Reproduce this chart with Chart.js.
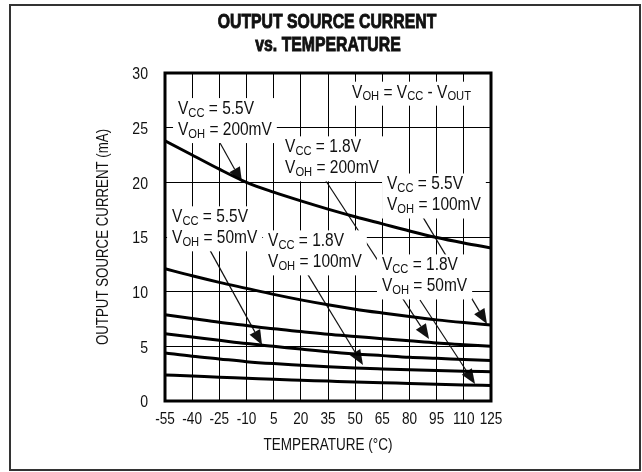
<!DOCTYPE html>
<html>
<head>
<meta charset="utf-8">
<script src="https://cdn.jsdelivr.net/npm/chart.js@4/dist/chart.umd.min.js"></script>
<style>
  html, body { margin: 0; padding: 0; background: #fff; }
  #wrap { width: 642px; height: 472px; }
</style>
</head>
<body>
<div id="wrap"><canvas id="c" width="642" height="472"></canvas></div>
<script>
// ---- data ----
const temps = [-55, -40, -25, -10, 5, 20, 35, 50, 65, 80, 95, 110, 125];
const xTickLabels = ['-55', '-40', '-25', '-10', '5', '20', '35', '50', '65', '80', '95', '110', '125'];
const yTicks = [0, 5, 10, 15, 20, 25, 30];
const yTickLabels = ['0', '5', '10', '15', '20', '25', '30'];

const vcc55_voh200 = [23.8, 22.5, 21.2, 20.0, 19.1, 18.3, 17.55, 16.85, 16.2, 15.55, 14.95, 14.45, 14.0];
const vcc55_voh100 = [12.1, 11.45, 10.85, 10.3, 9.75, 9.25, 8.8, 8.4, 8.05, 7.72, 7.42, 7.17, 6.95];
const vcc18_voh200 = [7.9, 7.55, 7.2, 6.9, 6.6, 6.35, 6.1, 5.9, 5.7, 5.5, 5.3, 5.15, 5.0];
const vcc55_voh50  = [6.15, 5.85, 5.55, 5.25, 5.0, 4.75, 4.5, 4.3, 4.15, 4.0, 3.9, 3.8, 3.7];
const vcc18_voh100 = [4.4, 4.1, 3.85, 3.6, 3.42, 3.28, 3.14, 3.02, 2.93, 2.85, 2.78, 2.72, 2.68];
const vcc18_voh50  = [2.38, 2.28, 2.17, 2.08, 1.98, 1.9, 1.82, 1.74, 1.67, 1.6, 1.53, 1.47, 1.42];

const titleLines = ['OUTPUT SOURCE CURRENT', 'vs. TEMPERATURE'];
const xTitle = 'TEMPERATURE (°C)';
const yTitle = 'OUTPUT SOURCE CURRENT (mA)';

// label texts: each line is a list of [text, isSubscript]
const labelTexts = {
  def: [[['V', 0], ['OH', 1], [' = V', 0], ['CC', 1], [' - V', 0], ['OUT', 1]]],
  a: [[['V', 0], ['CC', 1], [' = 5.5V', 0]], [['V', 0], ['OH', 1], [' = 200mV', 0]]],
  b: [[['V', 0], ['CC', 1], [' = 1.8V', 0]], [['V', 0], ['OH', 1], [' = 200mV', 0]]],
  c: [[['V', 0], ['CC', 1], [' = 5.5V', 0]], [['V', 0], ['OH', 1], [' = 100mV', 0]]],
  d: [[['V', 0], ['CC', 1], [' = 1.8V', 0]], [['V', 0], ['OH', 1], [' = 50mV', 0]]],
  e: [[['V', 0], ['CC', 1], [' = 5.5V', 0]], [['V', 0], ['OH', 1], [' = 50mV', 0]]],
  f: [[['V', 0], ['CC', 1], [' = 1.8V', 0]], [['V', 0], ['OH', 1], [' = 100mV', 0]]]
};

// annotation anchors in data units (temperature, mA)
const labelAnchors = [
  { key: 'def', t: 48.3, v: 28.2 },
  { key: 'a', t: -47.8, v: 26.7 },
  { key: 'b', t: 11.3, v: 23.2 },
  { key: 'c', t: 67.6, v: 19.8 },
  { key: 'd', t: 64.8, v: 12.4 },
  { key: 'e', t: -51.1, v: 16.8 },
  { key: 'f', t: 1.9, v: 14.6 }
];
const arrows = [
  { t0: -24.6, v0: 23.6, t1: -12.5, v1: 20.0 },   // a
  { t0: 32.8, v0: 20.4, t1: 90.8, v1: 5.67 },     // b
  { t0: 87.5, v0: 16.8, t1: 122.8, v1: 7.04 },    // c
  { t0: 85.8, v0: 9.24, t1: 116.2, v1: 1.55 },    // d
  { t0: -30.2, v0: 13.8, t1: -1.4, v1: 5.12 },    // e
  { t0: 23.4, v0: 11.7, t1: 54.3, v1: 3.29 }      // f
];

const FAM = "'Liberation Sans', Arial, sans-serif";
const INK = '#111';
const SX = 0.86; // horizontal condensing to mimic a narrow face

function text(ctx, txt, x, y, font, align, sx, stroke) {
  ctx.save();
  ctx.font = font;
  ctx.textAlign = align;
  ctx.textBaseline = 'middle';
  ctx.translate(x, y);
  ctx.scale(sx, 1);
  ctx.fillText(txt, 0, 0);
  if (stroke) { ctx.lineWidth = stroke; ctx.strokeText(txt, 0, 0); }
  ctx.restore();
}

function drawRich(ctx, line, x, y, draw) {
  let cx = x;
  for (const [txt, sub] of line) {
    const font = sub ? `13px ${FAM}` : `18px ${FAM}`;
    ctx.font = font;
    const w = ctx.measureText(txt).width * SX;
    if (draw) text(ctx, txt, cx, sub ? y + 4 : y, font, 'left', SX);
    cx += w;
  }
  return cx - x;
}

const annotPlugin = {
  id: 'annot',
  beforeDraw(chart) {
    const ctx = chart.ctx;
    ctx.save();
    ctx.fillStyle = '#fff';
    ctx.fillRect(0, 0, chart.width, chart.height);
    ctx.strokeStyle = '#333';
    ctx.lineWidth = 2;
    ctx.strokeRect(10, 5, 630, 465);
    ctx.restore();
  },
  beforeDatasetsDraw(chart) {
    const ctx = chart.ctx;
    const xs = chart.scales.x, ys = chart.scales.y;
    ctx.save();
    // arrows
    ctx.strokeStyle = INK; ctx.fillStyle = INK; ctx.lineWidth = 1.2;
    for (const a of arrows) {
      const x0 = xs.getPixelForValue(a.t0), y0 = ys.getPixelForValue(a.v0);
      const x1 = xs.getPixelForValue(a.t1), y1 = ys.getPixelForValue(a.v1);
      const ang = Math.atan2(y1 - y0, x1 - x0);
      const L = 15, W = 6;
      const bx = x1 - L * Math.cos(ang), by = y1 - L * Math.sin(ang);
      ctx.beginPath(); ctx.moveTo(x0, y0); ctx.lineTo(bx, by); ctx.stroke();
      ctx.beginPath();
      ctx.moveTo(x1, y1);
      ctx.lineTo(bx + W * Math.sin(ang), by - W * Math.cos(ang));
      ctx.lineTo(bx - W * Math.sin(ang), by + W * Math.cos(ang));
      ctx.closePath(); ctx.fill();
    }
    // labels with white boxes
    for (const l of labelAnchors) {
      const lines = labelTexts[l.key];
      const x = xs.getPixelForValue(l.t), y = ys.getPixelForValue(l.v);
      let wmax = 0;
      for (const ln of lines) wmax = Math.max(wmax, drawRich(ctx, ln, x, y, false));
      ctx.fillStyle = '#fff';
      ctx.fillRect(x - 5, y - 11, wmax + 10, 21 * (lines.length - 1) + 24);
      ctx.fillStyle = INK;
      lines.forEach((ln, i) => drawRich(ctx, ln, x, y + 21 * i, true));
    }
    ctx.restore();
  },
  afterDatasetsDraw(chart) {
    const ctx = chart.ctx, ca = chart.chartArea;
    const xs = chart.scales.x, ys = chart.scales.y;
    ctx.save();
    ctx.strokeStyle = '#000'; ctx.lineWidth = 3;
    ctx.strokeRect(ca.left, ca.top, ca.right - ca.left, ca.bottom - ca.top);
    ctx.fillStyle = INK; ctx.strokeStyle = INK;
    // tick labels, placed by the chart's own scales
    temps.forEach((t, i) => text(ctx, xTickLabels[i], xs.getPixelForValue(t), ca.bottom + 19, `16px ${FAM}`, 'center', 0.85));
    yTicks.forEach((v, i) => text(ctx, yTickLabels[i], ca.left - 17, ys.getPixelForValue(v) + 2, `16px ${FAM}`, 'right', 0.88));
    // titles
    text(ctx, titleLines[0], 327, 22, `bold 20px ${FAM}`, 'center', 0.79, 0.9);
    text(ctx, titleLines[1], 328, 45, `bold 20px ${FAM}`, 'center', 0.79, 0.9);
    text(ctx, xTitle, 328, 446, `16px ${FAM}`, 'center', 0.845);
    ctx.save();
    ctx.translate(104, (ca.top + ca.bottom) / 2);
    ctx.rotate(-Math.PI / 2);
    text(ctx, yTitle, 0, 0, `16px ${FAM}`, 'center', 0.83);
    ctx.restore();
    ctx.restore();
  }
};

function ds(data) {
  return {
    data: temps.map((t, i) => ({ x: t, y: data[i] })),
    borderColor: '#000', borderWidth: 3, pointRadius: 0, fill: false,
    cubicInterpolationMode: 'monotone'
  };
}

new Chart(document.getElementById('c'), {
  type: 'line',
  data: {
    datasets: [
      ds(vcc55_voh200), ds(vcc55_voh100), ds(vcc18_voh200),
      ds(vcc55_voh50), ds(vcc18_voh100), ds(vcc18_voh50)
    ]
  },
  options: {
    responsive: false, animation: false, devicePixelRatio: 1,
    layout: { padding: { top: 73, right: 151, left: 0, bottom: 0 } },
    plugins: { legend: { display: false }, title: { display: false }, tooltip: { enabled: false } },
    scales: {
      x: {
        type: 'linear', min: -55, max: 125,
        afterBuildTicks: s => { s.ticks = temps.map(v => ({ value: v })); },
        afterFit: s => { s.height = 71; },
        ticks: { display: false },
        grid: { color: '#000', lineWidth: 1, drawTicks: false },
        border: { display: false }
      },
      y: {
        type: 'linear', min: 0, max: 30,
        afterBuildTicks: s => { s.ticks = yTicks.map(v => ({ value: v })); },
        afterFit: s => { s.width = 165; },
        ticks: { display: false },
        grid: { color: '#000', lineWidth: 1, drawTicks: false },
        border: { display: false }
      }
    }
  },
  plugins: [annotPlugin]
});
</script>
</body>
</html>
